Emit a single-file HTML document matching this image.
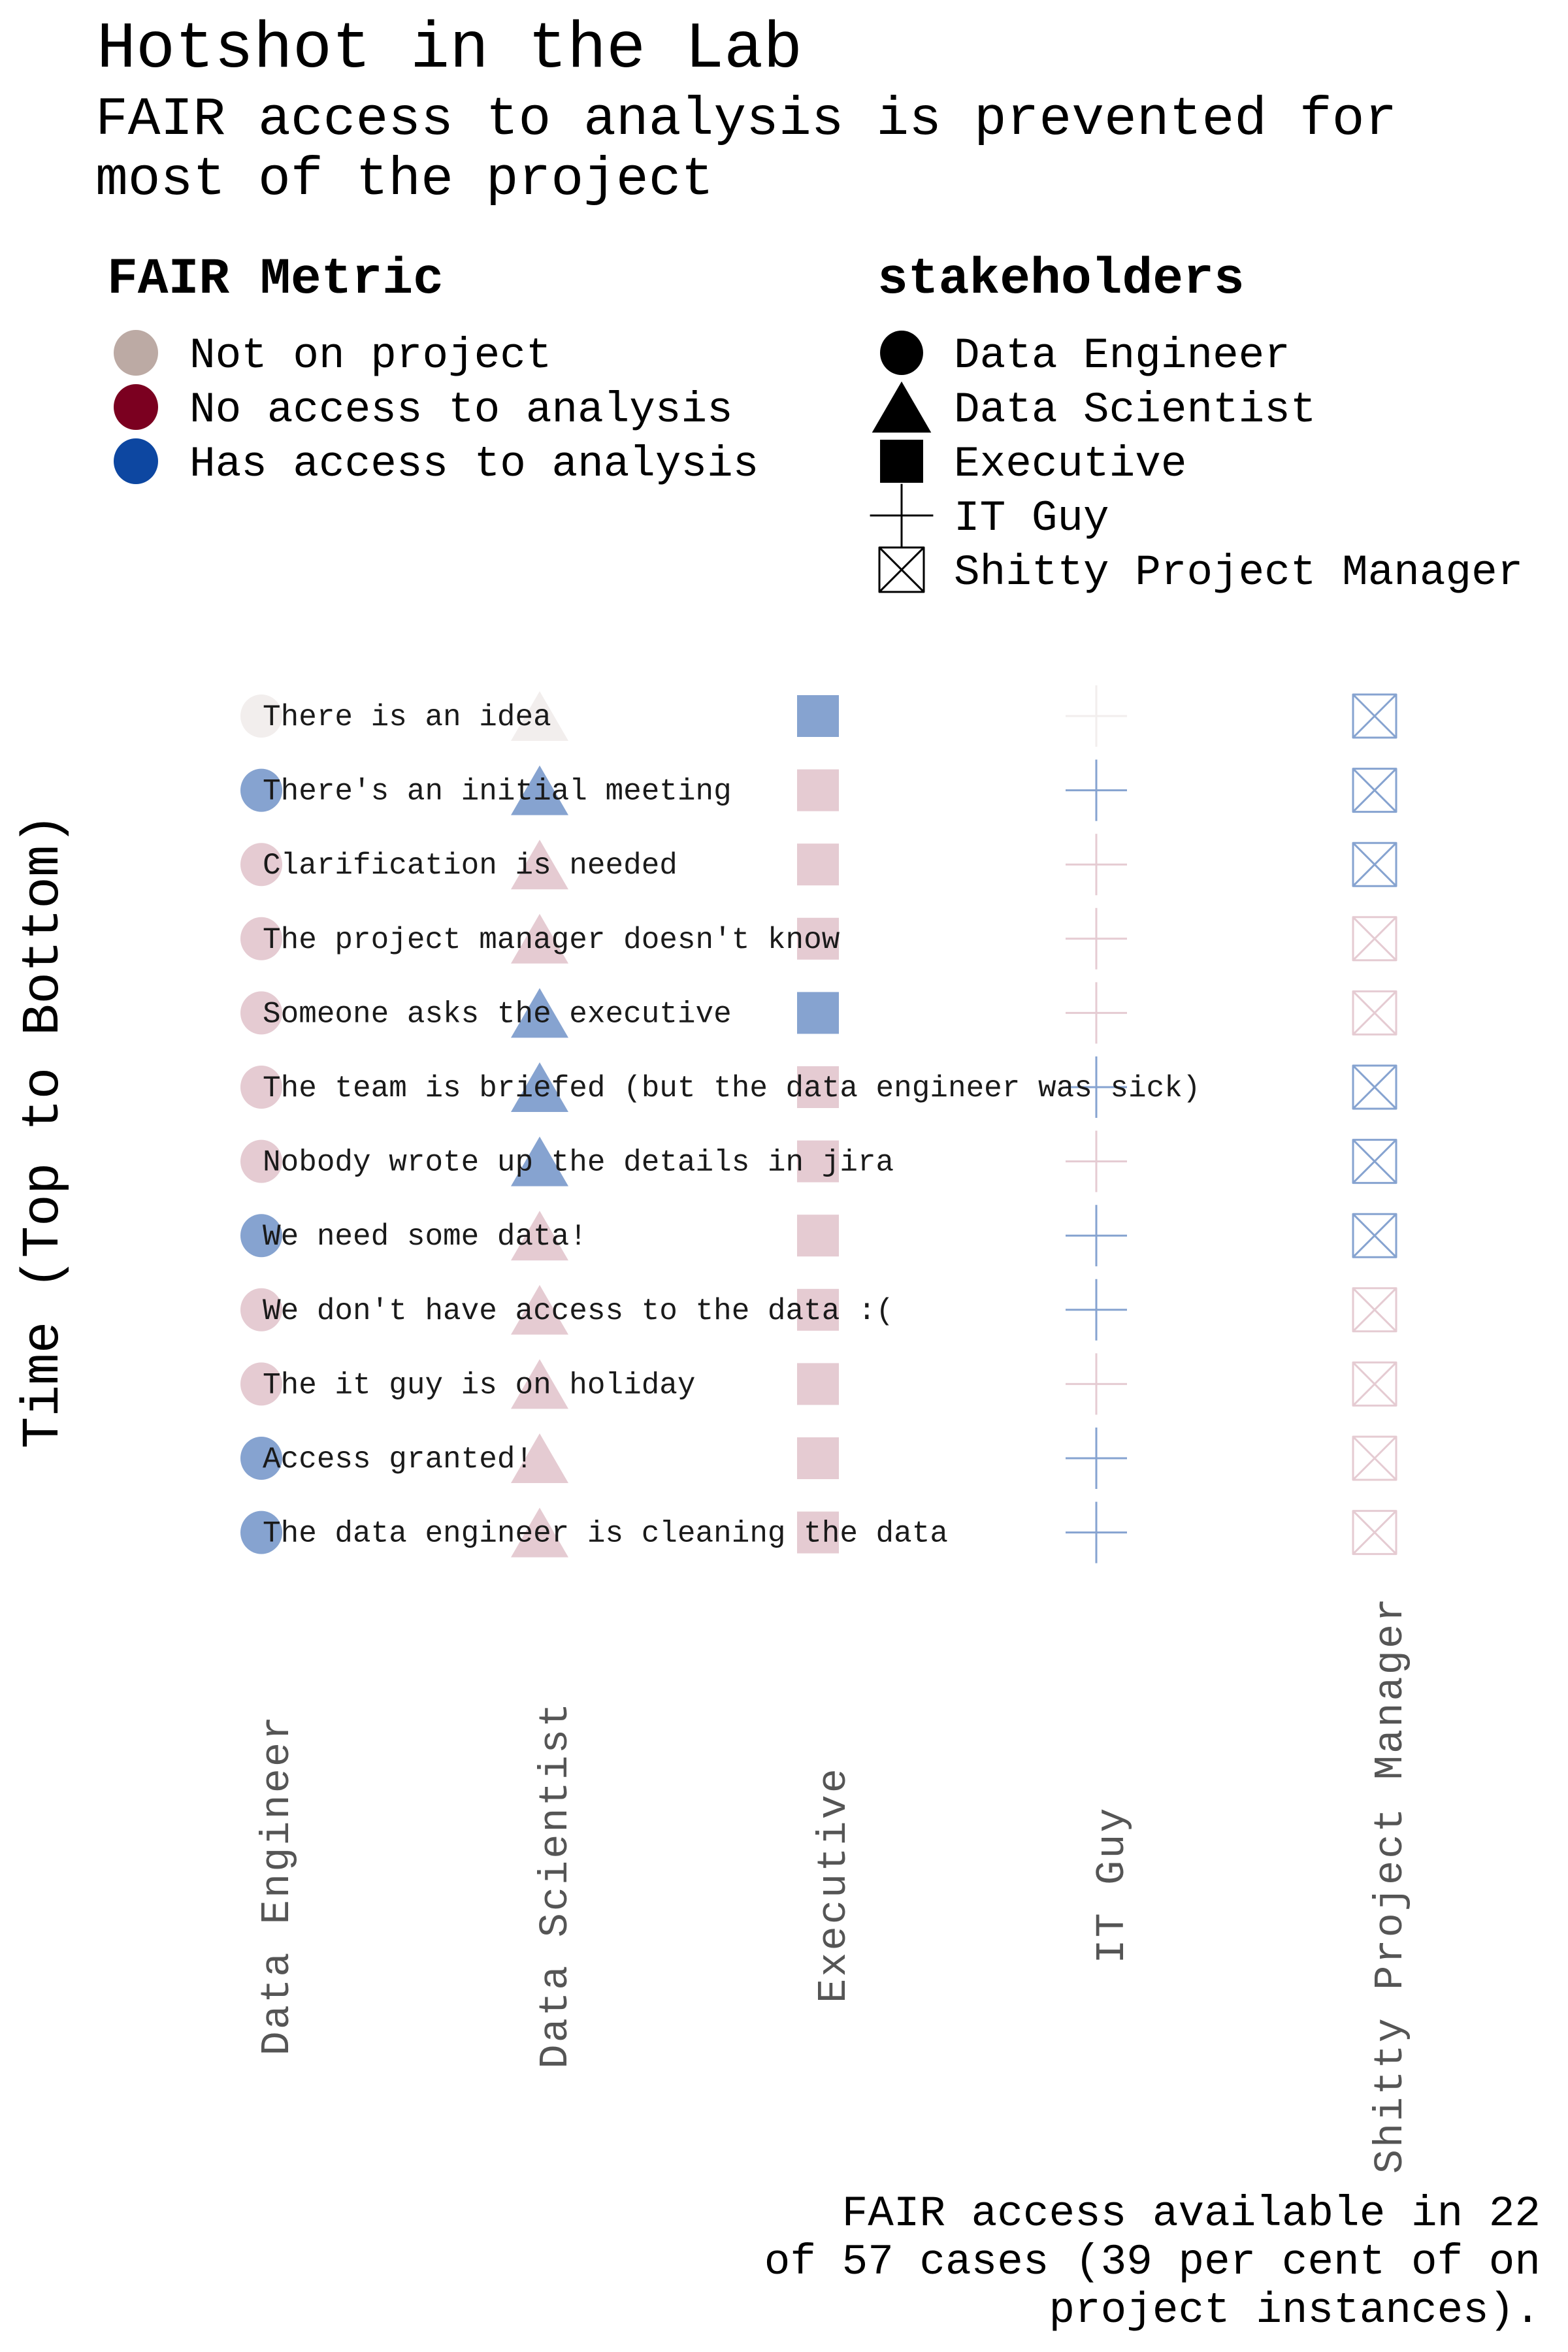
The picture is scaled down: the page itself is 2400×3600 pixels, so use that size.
<!DOCTYPE html>
<html><head><meta charset="utf-8">
<style>
html,body{margin:0;padding:0;background:#fff;}
svg{display:block;}
text{font-family:"Liberation Mono","DejaVu Sans Mono",monospace;}
</style></head>
<body>
<svg id="chart" width="2400" height="3600" viewBox="0 0 2400 3600" xmlns="http://www.w3.org/2000/svg">
<rect width="2400" height="3600" fill="#fff"/>
<g>
<text x="148" y="102" font-size="100" fill="#000">Hotshot in the Lab</text>
<text x="146" y="205" font-size="83" fill="#000">FAIR access to analysis is prevented for</text>
<text x="146" y="297" font-size="83" fill="#000">most of the project</text>
</g>
<g id="legends">
<text x="164" y="448" font-size="78" font-weight="bold" fill="#000">FAIR Metric</text>
<text x="1343" y="448" font-size="78" font-weight="bold" fill="#000">stakeholders</text>
</g>
<g id="marks"></g>
<g id="labels"></g>
<g id="xaxis"></g>
<text transform="translate(88,1731) rotate(-90)" text-anchor="middle" font-size="81" fill="#000">Time (Top to Bottom)</text>
<g font-size="66" fill="#000" text-anchor="end">
<text x="2358" y="3406">FAIR access available in 22</text>
<text x="2358" y="3480">of 57 cases (39 per cent of on</text>
<text x="2358" y="3554">project instances).</text>
</g>
</svg>
<script>
const stakeholders = ["Data Engineer","Data Scientist","Executive","IT Guy","Shitty Project Manager"];
const shapes = ["circle","triangle","square","plus","xbox"];
const events = ["There is an idea","There's an initial meeting","Clarification is needed","The project manager doesn't know","Someone asks the executive","The team is briefed (but the data engineer was sick)","Nobody wrote up the details in jira","We need some data!","We don't have access to the data :(","The it guy is on holiday","Access granted!","The data engineer is cleaning the data"];
// g = not on project, r = no access, b = has access
const statusDE   = ["g","b","r","r","r","r","r","b","r","r","b","b"];
const statusDS   = ["g","b","r","r","b","b","b","r","r","r","r","r"];
const statusEX   = ["b","r","r","r","b","r","r","r","r","r","r","r"];
const statusIT   = ["g","b","r","r","r","b","r","b","b","r","b","b"];
const statusSPM  = ["b","b","b","r","r","b","b","b","r","r","r","r"];
const metricKeys = ["g","r","b"];
const metricNames = ["Not on project","No access to analysis","Has access to analysis"];

const NS="http://www.w3.org/2000/svg";
const baseColor={g:"#bcaaa4",r:"#7b0020",b:"#0d47a1"};
const markColor={g:"#f2eeed",r:"#e5cbd2",b:"#86a3d0"};
const xScale=i=>400+i*426;
const yScale=i=>1096+i*113.6;
function mk(tag,attrs,parent){const e=document.createElementNS(NS,tag);for(const k in attrs)e.setAttribute(k,attrs[k]);parent.appendChild(e);return e;}
function drawShape(shape,cx,cy,color,parent,scale,lw){
  let e;
  if(shape==="circle"){e=mk("ellipse",{cx:cx,cy:cy,rx:32*scale,ry:33*scale,fill:color},parent);}
  else if(shape==="triangle"){const w=44*scale,h=38*scale;e=mk("polygon",{points:`${cx},${cy-h} ${cx-w},${cy+h} ${cx+w},${cy+h}`,fill:color},parent);}
  else if(shape==="square"){const s=32*scale;e=mk("rect",{x:cx-s,y:cy-s,width:2*s,height:2*s,fill:color},parent);}
  else if(shape==="plus"){const s=47*scale;e=mk("path",{d:`M${cx-s},${cy}H${cx+s}M${cx},${cy-s}V${cy+s}`,stroke:color,"stroke-width":lw,fill:"none"},parent);}
  else {const s=33*scale;e=mk("path",{d:`M${cx-s},${cy-s}H${cx+s}V${cy+s}H${cx-s}ZM${cx-s},${cy-s}L${cx+s},${cy+s}M${cx+s},${cy-s}L${cx-s},${cy+s}`,stroke:color,"stroke-width":lw,fill:"none","stroke-linejoin":"round"},parent);}
  return e;
}
const marks=document.getElementById("marks");
const statuses=[statusDE,statusDS,statusEX,statusIT,statusSPM];
statuses.forEach((col,si)=>{
  col.forEach((s,ri)=>{
    const e=drawShape(shapes[si],xScale(si),yScale(ri),markColor[s],marks,1,3);
    
    
  });
});
const labels=document.getElementById("labels");
events.forEach((t,ri)=>{
  const e=mk("text",{x:402,y:yScale(ri)+14,"font-size":46,fill:"#1a1a1a"},labels);
  e.textContent=t;
  
  
});
const xaxis=document.getElementById("xaxis");
stakeholders.forEach((s,si)=>{
  const x=xScale(si)+41;
  const e=mk("text",{transform:`translate(${x},2885) rotate(-90)`,"text-anchor":"middle","font-size":62,fill:"#555","letter-spacing":"3"},xaxis);
  e.textContent=s;
  
  
});
const legends=document.getElementById("legends");
metricNames.forEach((n,i)=>{
  const y=540+i*83;
  const c=mk("ellipse",{cx:208,cy:y,rx:34,ry:35,fill:baseColor[metricKeys[i]]},legends);
  
  
  const t=mk("text",{x:290,y:y+22,"font-size":66,fill:"#000"},legends);
  t.textContent=n;
  
  
});
stakeholders.forEach((n,i)=>{
  const y=540+i*83;
  const c=drawShape(shapes[i],1380,y,"#000",legends,1.03,3);
  
  
  const t=mk("text",{x:1460,y:y+22,"font-size":66,fill:"#000"},legends);
  t.textContent=n;
  
  
});
</script>
</body></html>
